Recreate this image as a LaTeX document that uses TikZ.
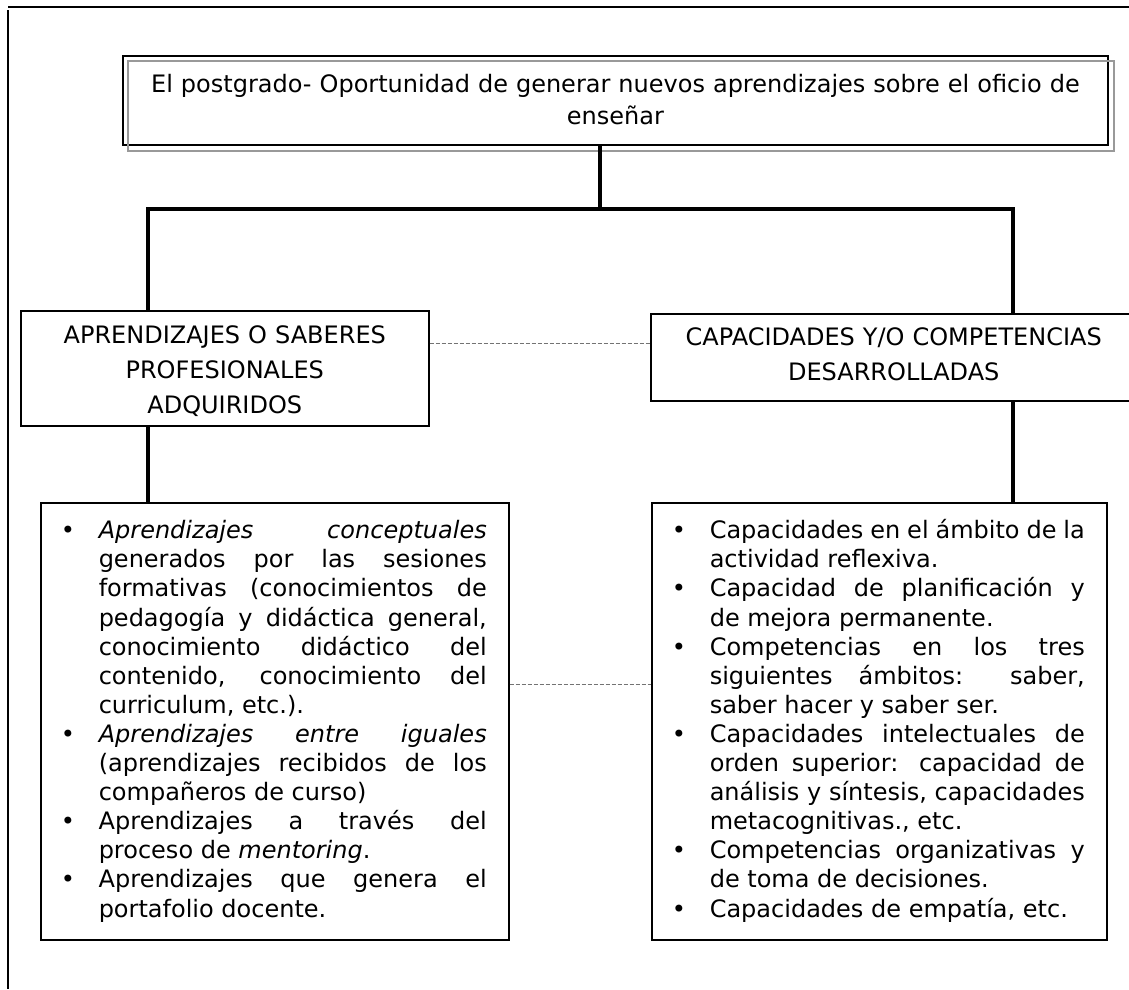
\documentclass[tikz,border=0pt]{standalone}
\usepackage{fontspec}
\setmainfont{DejaVu Sans}

\newcommand{\bul}{\noindent\hangindent=36pt\hangafter=1\makebox[36pt][l]{\hspace{-2pt}\textbullet}}
\newcommand{\listsetup}{\tolerance=10000\hyphenpenalty=10000\exhyphenpenalty=10000\parindent=0pt\parskip=0pt}

\begin{document}
\begin{tikzpicture}[x=1pt,y=-1pt]
	\tikzstyle{box} = [draw, line width=1.5pt, inner xsep=10pt, inner ysep=0pt, anchor=north west, align=center, font=\fontsize{24}{35}\selectfont]
	\tikzstyle{title_box} = [box, line width=1.8pt, font=\fontsize{24}{32}\selectfont]
	\tikzstyle{list_box} = [box, inner xsep=22pt, align=justify, font=\fontsize{24}{29.1}\selectfont]
	\tikzstyle{trunk} = [line width=3.5pt]
	\tikzstyle{link} = [draw=black!55, line width=1.3pt, dash pattern=on 4pt off 2pt]
	\tikzstyle{frame} = [line width=2pt]
	\tikzstyle{shadow_line} = [draw=black!40, line width=1.8pt]
\def\bary{209}
\def\listtop{502}

\useasboundingbox (0,0) rectangle (1129,989);

%page frame
\draw[frame] (8,7) -- (1129,7);
\draw[frame] (8,10) -- (8,989);

%top box
\node[title_box, text width=965pt, text height=37pt, text depth=52pt] (title) at (122,55)
	{El postgrado- Oportunidad de generar nuevos aprendizajes sobre el oficio de\\enseñar};
\draw[shadow_line] ([shift={(6,6)}]title.north west) rectangle ([shift={(5,5)}]title.south east);

%second level
\node[box, text width=388pt, text height=33pt, text depth=82pt] (saberes) at (20,310)
	{APRENDIZAJES O SABERES\\PROFESIONALES\\ADQUIRIDOS};
\node[box, text width=466pt, text height=32pt, text depth=55pt] (capacidades) at (650,313)
	{CAPACIDADES Y/O COMPETENCIAS\\DESARROLLADAS};

%lists
\node[list_box, text width=424pt, text height=36pt, text depth=401pt] (saberes_list) at (40,\listtop)
	{\listsetup
	\bul \textit{Aprendizajes conceptuales}\linebreak generados por las sesiones\linebreak formativas (conocimientos de\linebreak pedagogía y didáctica general,\linebreak conocimiento didáctico del\linebreak contenido, conocimiento del\linebreak curriculum, etc.).\par
	\bul \textit{Aprendizajes entre iguales}\linebreak (aprendizajes recibidos de los\linebreak compañeros de curso)\par
	\bul Aprendizajes a través del\linebreak proceso de \textit{mentoring}.\par
	\bul Aprendizajes que genera el\linebreak portafolio docente.\par};
\node[list_box, text width=411pt, text height=36pt, text depth=401pt] (capacidades_list) at (651,\listtop)
	{\listsetup
	\bul Capacidades en el ámbito de la\linebreak actividad reflexiva.\par
	\bul Capacidad de planificación y\linebreak de mejora permanente.\par
	\bul Competencias en los tres\linebreak siguientes ámbitos: saber,\linebreak saber hacer y saber ser.\par
	\bul Capacidades intelectuales de\linebreak orden superior: capacidad de\linebreak análisis y síntesis, capacidades\linebreak metacognitivas., etc.\par
	\bul Competencias organizativas y\linebreak de toma de decisiones.\par
	\bul Capacidades de empatía, etc.\par};

%tree lines
\coordinate (fork) at (600,\bary);
\coordinate (fork_l) at (148,\bary);
\coordinate (fork_r) at (1013,\bary);
\draw[trunk] (title.south -| fork) -- (fork);
\draw[trunk] (saberes.north -| fork_l) -- (fork_l) -- (fork_r) -- (capacidades.north -| fork_r);
\foreach \from/\to/\via in {saberes/saberes_list/fork_l, capacidades/capacidades_list/fork_r}
	\draw[trunk] (\from.south -| \via) -- (\to.north -| \via);

%dashed links
\draw[link] (saberes.base east) -- (saberes.base east -| capacidades.west);
\draw[link] ([yshift=37pt]saberes_list.east) -- ([yshift=37pt]saberes_list.east -| capacidades_list.west);
\end{tikzpicture}
\end{document}
